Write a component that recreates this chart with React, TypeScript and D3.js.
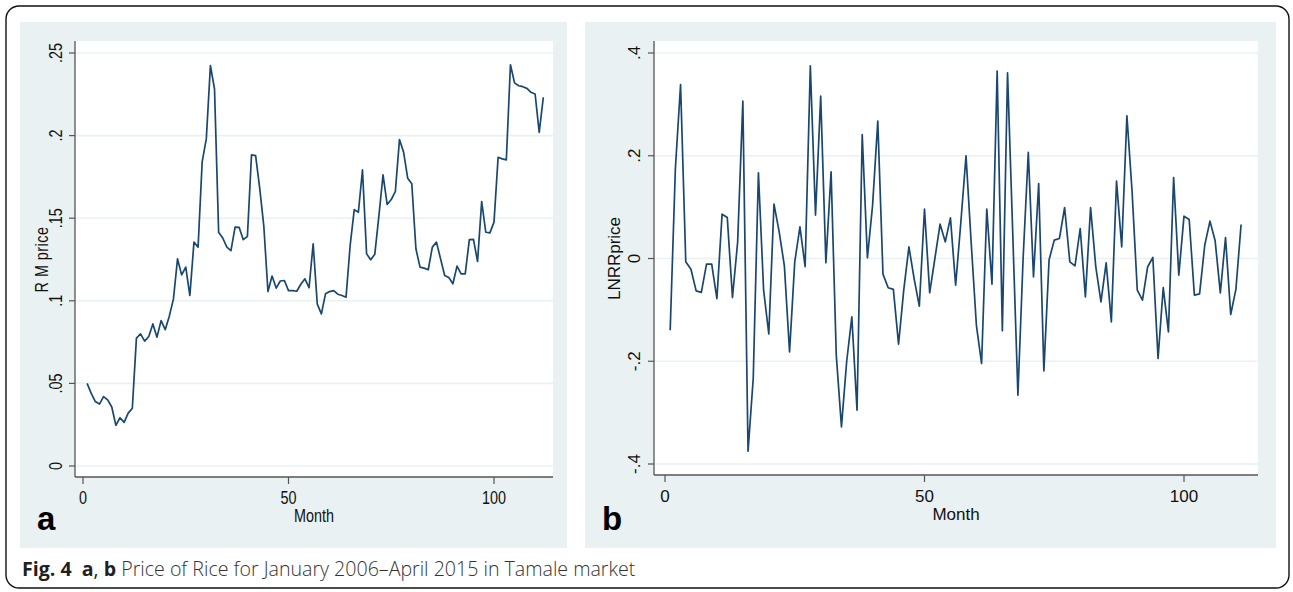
import React from 'react';
import * as d3 from 'd3';

// RM price by month (Jan 2006 - Apr 2015)
const rmPrice = [
  0.050, 0.044, 0.039, 0.0375, 0.042, 0.040, 0.0357, 0.0246, 0.0292, 0.0264,
  0.032, 0.035, 0.0774, 0.080, 0.0756, 0.0784, 0.086, 0.078, 0.088, 0.0825,
  0.0907, 0.101, 0.1254, 0.1157, 0.1204, 0.1032, 0.1355, 0.1325, 0.1843, 0.198,
  0.2423, 0.2282, 0.1415, 0.138, 0.1325, 0.1304, 0.1446, 0.1444, 0.137, 0.139,
  0.1883, 0.1879, 0.168, 0.145, 0.1056, 0.115, 0.1077, 0.112, 0.1123, 0.1062,
  0.1062, 0.1058, 0.110, 0.1133, 0.1079, 0.1345, 0.098, 0.0921, 0.1042, 0.1056,
  0.1062, 0.104, 0.1032, 0.1022, 0.1335, 0.1552, 0.1536, 0.1792, 0.1284, 0.1248,
  0.1282, 0.1516, 0.1762, 0.1583, 0.1613, 0.1663, 0.1976, 0.19, 0.1742, 0.1708,
  0.1315, 0.1204, 0.1198, 0.1188, 0.1325, 0.1355, 0.1254, 0.1153, 0.1141, 0.1103,
  0.121, 0.1163, 0.1163, 0.137, 0.1372, 0.1238, 0.16, 0.1415, 0.1411, 0.1476,
  0.1869, 0.1859, 0.1853, 0.2429, 0.2319, 0.2302, 0.2296, 0.2286, 0.2262, 0.2252,
  0.202, 0.2232,
];

// LNRR price (log returns)
const lnrrPrice = [
  -0.1395, 0.175, 0.3387, -0.0065, -0.021, -0.063, -0.066, -0.011, -0.011, -0.078,
  0.0863, 0.0798, -0.076, 0.0324, 0.3063, -0.375, -0.2336, 0.1668, -0.0617, -0.147,
  0.1058, 0.052, -0.0143, -0.1817, -0.0065, 0.0617, -0.016, 0.375, 0.0844, 0.316,
  -0.0084, 0.1687, -0.188, -0.3277, -0.201, -0.1136, -0.2953, 0.2414, 0.0013, 0.1038,
  0.2674, -0.0305, -0.057, -0.06, -0.1668, -0.0617, 0.0227, -0.039, -0.0928, 0.096,
  -0.0668, 0.0, 0.0668, 0.0324, 0.079, -0.052, 0.07, 0.2, 0.03, -0.13,
  -0.2044, 0.096, -0.05, 0.3647, -0.1408, 0.3615, 0.05, -0.266, 0.0, 0.2064,
  -0.0357, 0.146, -0.2187, -0.003, 0.0357, 0.039, 0.0993, -0.0065, -0.0143, 0.0584,
  -0.0746, 0.0993, -0.016, -0.0844, -0.0084, -0.1233, 0.1506, 0.0227, 0.2777, 0.13,
  -0.0617, -0.0811, -0.016, 0.002, -0.1947, -0.0565, -0.1428, 0.1577, -0.0324, 0.0824,
  0.076, -0.0714, -0.0688, 0.026, 0.0727, 0.0344, -0.0668, 0.0409, -0.109, -0.06,
  0.0662,
];

const leftYTicks = [0, 0.05, 0.1, 0.15, 0.2, 0.25];
const leftYLabels = ['0', '.05', '.1', '.15', '.2', '.25'];
const rightYTicks = [-0.4, -0.2, 0, 0.2, 0.4];
const rightYLabels = ['-.4', '-.2', '0', '.2', '.4'];
const monthTicks = [0, 50, 100];
const monthLabels = ['0', '50', '100'];

const BG = '#e9f1f2';
const GRID = '#eaf1f3';
const LINE = '#1a476f';
const AXIS = '#555';
const FONT = '"Liberation Sans", Arial, sans-serif';

interface PanelProps {
  values: number[];
  bg: [number, number, number, number];
  plot: [number, number, number, number];
  x0: number;
  x100: number;
  yTicks: number[];
  yLabels: string[];
  yTop: number;
  yBottom: number;
  yTitle: string;
  yTitleSpacing: number;
  letter: string;
  squeeze: number;
  fontSize: number;
  yLabelX: number;
  yTitleX: number;
}

const Panel: React.FC<PanelProps> = (p) => {
  const [bx0, by0, bx1, by1] = p.bg;
  const [px0, py0, px1, py1] = p.plot;
  const x = d3.scaleLinear().domain([0, 100]).range([p.x0, p.x100]);
  const yMin = p.yTicks[0];
  const yMax = p.yTicks[p.yTicks.length - 1];
  const y = d3.scaleLinear().domain([yMin, yMax]).range([p.yBottom, p.yTop]);
  const line = d3
    .line<number>()
    .x((_, i) => x(i + 1))
    .y((d) => y(d));
  const sq = p.squeeze;
  const midX = (px0 + px1) / 2;
  const midY = (p.yTop + p.yBottom) / 2;

  return (
    <g>
      <rect x={bx0} y={by0} width={bx1 - bx0} height={by1 - by0} fill={BG} />
      <rect x={px0} y={py0} width={px1 - px0} height={py1 - py0} fill="#fff" />
      {p.yTicks.map((t) => (
        <line key={'g' + t} x1={px0} x2={px1} y1={y(t)} y2={y(t)} stroke={GRID} strokeWidth={1.6} />
      ))}
      <path d={line(p.values) || ''} fill="none" stroke={LINE} strokeWidth={1.7} strokeLinejoin="round" />
      {/* axes */}
      <line x1={px0} x2={px0} y1={py0} y2={py1} stroke={AXIS} strokeWidth={1.3} />
      <line x1={px0} x2={px1} y1={py1} y2={py1} stroke={AXIS} strokeWidth={1.3} />
      {p.yTicks.map((t, i) => (
        <g key={'yt' + t}>
          <line x1={px0 - 6} x2={px0} y1={y(t)} y2={y(t)} stroke={AXIS} strokeWidth={1.2} />
          <text
            transform={`translate(${p.yLabelX},${y(t)}) rotate(-90) scale(${sq},1)`}
            textAnchor="middle"
            fontFamily={FONT}
            fontSize={p.fontSize}
            fill="#111"
          >
            {p.yLabels[i]}
          </text>
        </g>
      ))}
      {monthTicks.map((t, i) => (
        <g key={'xt' + t}>
          <line x1={x(t)} x2={x(t)} y1={py1} y2={py1 + 7} stroke={AXIS} strokeWidth={1.2} />
          <text
            transform={`translate(${x(t)},${py1 + 27}) scale(${sq},1)`}
            textAnchor="middle"
            fontFamily={FONT}
            fontSize={p.fontSize}
            fill="#111"
          >
            {monthLabels[i]}
          </text>
        </g>
      ))}
      <text
        transform={`translate(${midX},${py1 + 45}) scale(${sq},1)`}
        textAnchor="middle"
        fontFamily={FONT}
        fontSize={p.fontSize}
        fill="#111"
      >
        Month
      </text>
      <text
        transform={`translate(${p.yTitleX},${midY}) rotate(-90) scale(${sq},1)`}
        textAnchor="middle"
        fontFamily={FONT}
        fontSize={p.fontSize}
        letterSpacing={p.yTitleSpacing}
        fill="#111"
      >
        {p.yTitle}
      </text>
      <text x={bx0 + 17} y={530} fontFamily={FONT} fontWeight={700} fontSize={33} fill="#000">
        {p.letter}
      </text>
    </g>
  );
};

export default function App() {
  return (
    <svg
      width={1293}
      height={592}
      style={{ position: 'absolute', left: 0, top: 0, display: 'block', background: '#fff' }}
    >
      <rect x={6} y={6} width={1283} height={582} rx={13} ry={13} fill="#fff" stroke="#111" strokeWidth={1.4} />
      <Panel
        values={rmPrice}
        bg={[20, 22, 567, 548]}
        plot={[75, 41, 553, 477]}
        x0={83}
        x100={494}
        yTicks={leftYTicks}
        yLabels={leftYLabels}
        yTop={53}
        yBottom={466}
        yTitle="R M price"
        yTitleSpacing={0.6}
        letter="a"
        squeeze={0.8}
        fontSize={18}
        yLabelX={62}
        yTitleX={48}
      />
      <Panel
        values={lnrrPrice}
        bg={[585, 22, 1276, 548]}
        plot={[654, 41, 1258, 475]}
        x0={665}
        x100={1184}
        yTicks={rightYTicks}
        yLabels={rightYLabels}
        yTop={53}
        yBottom={464}
        yTitle="LNRRprice"
        yTitleSpacing={0}
        letter="b"
        squeeze={1}
        fontSize={17}
        yLabelX={640}
        yTitleX={620}
      />
      <text x={22} y={576} fontFamily='"Open Sans", "Noto Sans", sans-serif' fontSize={19.6} fill="#231f20">
        <tspan fontWeight={700}>Fig. 4</tspan>
        <tspan dx={10} fontWeight={700}>a</tspan>
        <tspan>, </tspan>
        <tspan fontWeight={700}>b</tspan>
        <tspan fill="#333" fontWeight={300}> Price of Rice for January 2006–April 2015 in Tamale market</tspan>
      </text>
    </svg>
  );
}
